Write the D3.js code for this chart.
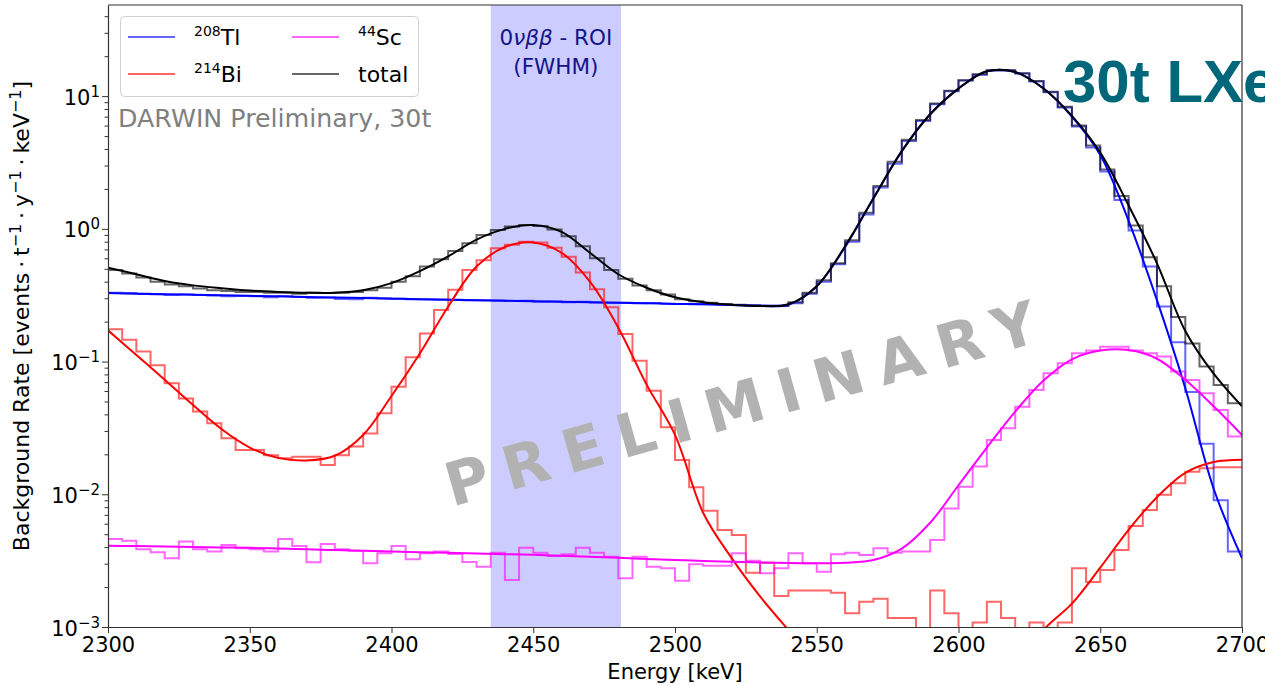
<!DOCTYPE html>
<html>
<head>
<meta charset="utf-8">
<script src="https://cdn.jsdelivr.net/npm/d3@7"></script>
<style>
  body { margin: 0; background: #fff; }
  svg { display: block; font-family: "DejaVu Sans", sans-serif; }
</style>
</head>
<body>
<svg id="chart" width="1265" height="686"></svg>
<script>
// fit curves, sampled every 10 keV
const fitE = [2300, 2310, 2320, 2330, 2340, 2350, 2360, 2370, 2380, 2390,
  2400, 2410, 2420, 2430, 2440, 2450, 2460, 2470, 2480, 2490,
  2500, 2510, 2520, 2530, 2540, 2550, 2560, 2570, 2580, 2590,
  2600, 2610, 2620, 2630, 2640, 2650, 2660, 2670, 2680, 2690, 2700];
const fitTl = [0.328, 0.325, 0.322, 0.319, 0.316, 0.313, 0.31, 0.307, 0.304, 0.301,
  0.298, 0.295, 0.292, 0.29, 0.287, 0.285, 0.282, 0.28, 0.277, 0.275,
  0.272, 0.27, 0.267, 0.263, 0.268, 0.37, 0.73, 1.7, 3.85, 7.3,
  11.4, 15.4, 15.2, 11.4, 7.0, 3.6, 1.15, 0.29, 0.063, 0.011, 0.0033];
const fitBi = [0.172, 0.112, 0.073, 0.047, 0.031, 0.0225, 0.0188, 0.018, 0.0195, 0.028,
  0.055, 0.115, 0.26, 0.52, 0.73, 0.79, 0.66, 0.40, 0.18, 0.067,
  0.028, 0.0072, 0.0033, 0.0017, 0.00095, 0.00055, 0.00032, 0.0002, 0.00015, 0.00013,
  0.00013, 0.00017, 0.00045, 0.00095, 0.0015, 0.0028, 0.0054, 0.0095, 0.0145, 0.0175, 0.0182];
const fitSc = [0.0041, 0.00407, 0.00404, 0.00401, 0.00398, 0.00395, 0.0039, 0.00385, 0.0038, 0.00375,
  0.0037, 0.00366, 0.00362, 0.00358, 0.00354, 0.0035, 0.00344, 0.00338, 0.00332, 0.00326,
  0.0032, 0.00314, 0.0031, 0.00306, 0.00303, 0.00302, 0.00305, 0.0032, 0.0039, 0.0061,
  0.0117, 0.0225, 0.042, 0.072, 0.104, 0.121, 0.122, 0.105, 0.073, 0.046, 0.028];
const fitTotal = [0.51, 0.455, 0.405, 0.375, 0.357, 0.343, 0.335, 0.33, 0.33, 0.345,
  0.39, 0.48, 0.62, 0.83, 1.0, 1.07, 0.95, 0.66, 0.455, 0.36,
  0.305, 0.28, 0.268, 0.262, 0.27, 0.37, 0.74, 1.7, 3.85, 7.3,
  11.4, 15.4, 15.2, 11.4, 7.1, 3.75, 1.5, 0.55, 0.17, 0.081, 0.046];

// simulated spectra, 5 keV bins from 2300 keV
const binStart = 2300, binWidth = 5;
const histTl = [0.33, 0.328, 0.325, 0.322, 0.318, 0.32, 0.317, 0.314, 0.31, 0.312,
  0.31, 0.305, 0.31, 0.306, 0.303, 0.304, 0.296, 0.295, 0.302, 0.30,
  0.297, 0.295, 0.295, 0.293, 0.292, 0.29, 0.29, 0.288, 0.286, 0.287,
  0.282, 0.284, 0.28, 0.282, 0.279, 0.277, 0.278, 0.275, 0.276, 0.273,
  0.272, 0.27, 0.27, 0.268, 0.267, 0.266, 0.265, 0.265, 0.275, 0.325,
  0.40, 0.54, 0.80, 1.28, 2.05, 3.1, 4.6, 6.5, 8.7, 10.9,
  13.1, 14.5, 15.6, 15.6, 14.8, 12.9, 10.7, 8.2, 5.9, 4.1,
  2.7, 1.65, 0.97, 0.52, 0.26, 0.14, 0.059, 0.024, 0.009, 0.0037];
const histBi = [0.175, 0.146, 0.119, 0.094, 0.0686, 0.0528, 0.042, 0.0343, 0.0264, 0.0216,
  0.0216, 0.0197, 0.0187, 0.0192, 0.0192, 0.0166, 0.0197, 0.0229, 0.0287, 0.0408,
  0.0645, 0.108, 0.163, 0.245, 0.347, 0.49, 0.58, 0.715, 0.76, 0.80,
  0.79, 0.72, 0.617, 0.468, 0.35, 0.257, 0.161, 0.1016, 0.0604, 0.032,
  0.0181, 0.0113, 0.0075, 0.00538, 0.00493, 0.00256, 0.00305, 0.00171, 0.00188, 0.00188,
  0.00188, 0.00181, 0.00127, 0.00155, 0.00163, 0.00117, 0.00117, 0.0004, 0.00188, 0.00127,
  0.0004, 0.00108, 0.00155, 0.00117, 0.0004, 0.00108, 0.0004, 0.00108, 0.00277, 0.00218,
  0.00269, 0.0038, 0.00577, 0.0076, 0.0099, 0.0121, 0.0148, 0.0157, 0.016, 0.016];
const histSc = [0.0046, 0.00447, 0.00385, 0.00366, 0.0033, 0.0044, 0.00385, 0.0037, 0.00415, 0.00392,
  0.00385, 0.0037, 0.0046, 0.00408, 0.00307, 0.00422, 0.00385, 0.00376, 0.00302, 0.00359,
  0.00408, 0.00324, 0.00359, 0.0037, 0.00355, 0.00309, 0.00285, 0.00363, 0.00226, 0.00396,
  0.00363, 0.00343, 0.00353, 0.00396, 0.00363, 0.00339, 0.00233, 0.00339, 0.00285, 0.00277,
  0.00223, 0.00297, 0.0029, 0.0029, 0.00359, 0.00316, 0.00254, 0.00277, 0.00359, 0.00302,
  0.00261, 0.00353, 0.00363, 0.00349, 0.00392, 0.00363, 0.0037, 0.0037, 0.00453, 0.00783,
  0.0114, 0.0162, 0.0257, 0.0314, 0.0457, 0.0611, 0.0817, 0.097, 0.1155, 0.121,
  0.1295, 0.1295, 0.121, 0.1155, 0.109, 0.084, 0.0727, 0.0577, 0.0432, 0.0272];
const histTotal = [0.49, 0.46, 0.43, 0.40, 0.38, 0.37, 0.355, 0.345, 0.34, 0.335,
  0.335, 0.33, 0.33, 0.325, 0.33, 0.328, 0.33, 0.335, 0.345, 0.36,
  0.40, 0.44, 0.52, 0.59, 0.68, 0.78, 0.9, 0.98, 1.04, 1.07,
  1.05, 0.99, 0.88, 0.74, 0.6, 0.49, 0.42, 0.375, 0.345, 0.32,
  0.295, 0.285, 0.278, 0.272, 0.268, 0.264, 0.262, 0.262, 0.28, 0.33,
  0.41, 0.55, 0.82, 1.32, 2.1, 3.2, 4.7, 6.6, 8.8, 11.0,
  13.2, 14.6, 15.7, 15.7, 14.9, 13.0, 10.8, 8.3, 6.0, 4.25,
  2.8, 1.77, 1.06, 0.61, 0.37, 0.217, 0.137, 0.0916, 0.0667, 0.0485];

const xTicks = [2300, 2350, 2400, 2450, 2500, 2550, 2600, 2650, 2700];
const yTicks = [1e-3, 1e-2, 1e-1, 1, 10];
const yTickExp = ["\u22123", "\u22122", "\u22121", "0", "1"];
const roi = [2435, 2481];

const series = [
  { iso: "208", el: "Tl", color: "#0000ff", hcolor: "rgba(0,0,255,0.6)", fit: fitTl, hist: histTl },
  { iso: "214", el: "Bi", color: "#ff0000", hcolor: "rgba(255,0,0,0.6)", fit: fitBi, hist: histBi },
  { iso: "44", el: "Sc", color: "#ff00ff", hcolor: "rgba(255,0,255,0.6)", fit: fitSc, hist: histSc },
  { iso: "", el: "total", color: "#000000", hcolor: "rgba(0,0,0,0.6)", fit: fitTotal, hist: histTotal }
];

const m = { left: 108, top: 5, right: 1242, bottom: 627 };
const svg = d3.select("#chart");

const x = d3.scaleLinear().domain([2300, 2700]).range([m.left, m.right]);
const y = d3.scaleLog().domain([1e-3, 48.6]).range([m.bottom, m.top]);

svg.append("clipPath").attr("id", "plot")
  .append("rect")
  .attr("x", m.left).attr("y", m.top)
  .attr("width", m.right - m.left).attr("height", m.bottom - m.top);

const plot = svg.append("g").attr("clip-path", "url(#plot)");

// ROI band
plot.append("rect")
  .attr("x", x(roi[0])).attr("y", m.top)
  .attr("width", x(roi[1]) - x(roi[0])).attr("height", m.bottom - m.top)
  .attr("fill", "#ccccff");

// watermark
svg.append("text")
  .attr("transform", "translate(754,422) rotate(-15.7)")
  .attr("text-anchor", "middle")
  .attr("font-size", 60)
  .attr("font-weight", "bold")
  .attr("letter-spacing", 15.5)
  .attr("fill", "#b2b2b2")
  .text("PRELIMINARY");

const histLine = d3.line()
  .x(d => x(d[0])).y(d => y(d[1]))
  .curve(d3.curveStepAfter);

const fitLine = d3.line()
  .x((d, i) => x(fitE[i])).y(d => y(d))
  .curve(d3.curveCatmullRom.alpha(0.5));

series.forEach(s => {
  const pts = s.hist.map((v, i) => [binStart + i * binWidth, v]);
  pts.push([binStart + s.hist.length * binWidth, s.hist[s.hist.length - 1]]);
  plot.append("path")
    .attr("d", histLine(pts))
    .attr("fill", "none")
    .attr("stroke", s.hcolor)
    .attr("stroke-width", 2);
});

series.forEach(s => {
  plot.append("path")
    .attr("d", fitLine(s.fit))
    .attr("fill", "none")
    .attr("stroke", s.color)
    .attr("stroke-width", 2);
});

// axes
const xAxis = svg.append("g")
  .attr("transform", `translate(0,${m.bottom})`)
  .call(d3.axisBottom(x).tickValues(xTicks).tickFormat(d3.format("d"))
    .tickSize(6).tickSizeOuter(0).tickPadding(4));
xAxis.selectAll("text").attr("font-size", 21).attr("font-family", "DejaVu Sans").attr("fill", "#000");

svg.append("g")
  .attr("transform", `translate(${m.left},0)`)
  .call(d3.axisLeft(y).tickValues(yTicks).tickSize(6).tickSizeOuter(0).tickFormat(""));

const minor = [];
[-3, -2, -1, 0, 1].forEach(p => {
  for (let k = 2; k <= 9; k++) {
    const v = k * Math.pow(10, p);
    if (v < y.domain()[1]) minor.push(v);
  }
});
svg.append("g")
  .attr("transform", `translate(${m.left},0)`)
  .call(d3.axisLeft(y).tickValues(minor).tickSize(3.5).tickSizeOuter(0).tickFormat(""))
  .select(".domain").remove();

svg.selectAll(".domain").attr("stroke", "#333").attr("stroke-width", 1.2);
svg.selectAll(".tick line").attr("stroke", "#333").attr("stroke-width", 1);

// y tick labels 10^n
yTicks.forEach((v, i) => {
  const t = svg.append("text")
    .attr("x", 100).attr("y", y(v) + 8.5)
    .attr("text-anchor", "end")
    .attr("font-size", 21);
  t.append("tspan").text("10");
  t.append("tspan").attr("font-size", 15).attr("dy", -8).text(yTickExp[i]);
});

// top and right spines
svg.append("line").attr("x1", m.left).attr("x2", m.right).attr("y1", m.top).attr("y2", m.top)
  .attr("stroke", "#333").attr("stroke-width", 1.2);
svg.append("line").attr("x1", m.right).attr("x2", m.right).attr("y1", m.top).attr("y2", m.bottom)
  .attr("stroke", "#333").attr("stroke-width", 1.2);

// axis labels
svg.append("text")
  .attr("x", (m.left + m.right) / 2).attr("y", 679)
  .attr("text-anchor", "middle").attr("font-size", 21)
  .text("Energy [keV]");

const yl = svg.append("text")
  .attr("transform", `translate(29,${(m.top + m.bottom) / 2}) rotate(-90)`)
  .attr("text-anchor", "middle").attr("font-size", 22);
const dotSep = "\u205f\u00b7\u205f";
yl.append("tspan").text("Background Rate [events" + dotSep + "t");
yl.append("tspan").attr("font-size", 16).attr("dy", -8).text("\u22121");
yl.append("tspan").attr("dy", 8).text(dotSep + "y");
yl.append("tspan").attr("font-size", 16).attr("dy", -8).text("\u22121");
yl.append("tspan").attr("dy", 8).text(dotSep + "keV");
yl.append("tspan").attr("font-size", 16).attr("dy", -8).text("\u22121");
yl.append("tspan").attr("dy", 8).text("]");

// ROI label
const roiX = (x(roi[0]) + x(roi[1])) / 2;
const r1 = svg.append("text").attr("x", roiX).attr("y", 45)
  .attr("text-anchor", "middle").attr("font-size", 21.5).attr("fill", "#14148a");
r1.append("tspan").text("0");
r1.append("tspan").attr("font-style", "italic").text("\u03bd\u03b2\u03b2");
r1.append("tspan").text(" - ROI");
svg.append("text").attr("x", roiX).attr("y", 74)
  .attr("text-anchor", "middle").attr("font-size", 21.5).attr("fill", "#14148a")
  .text("(FWHM)");

// legend
const lg = svg.append("g");
lg.append("rect")
  .attr("x", 120.5).attr("y", 16.5).attr("width", 298).attr("height", 80).attr("rx", 4)
  .attr("fill", "rgba(255,255,255,0.8)").attr("stroke", "#d0d0d0");
const legendPos = [[128, 37], [128, 74], [292, 37], [292, 74]];
series.forEach((s, i) => {
  const [lx, ly] = legendPos[i];
  lg.append("line")
    .attr("x1", lx).attr("x2", lx + 47).attr("y1", ly).attr("y2", ly)
    .attr("stroke", s.hcolor).attr("stroke-width", 2);
  const t = lg.append("text").attr("x", lx + 66).attr("y", ly + 8).attr("font-size", 22);
  if (s.iso) {
    t.append("tspan").attr("font-size", 14).attr("dy", -9).text(s.iso);
    t.append("tspan").attr("dy", 9).text(s.el);
  } else {
    t.append("tspan").text(s.el);
  }
});

svg.append("text")
  .attr("x", 118).attr("y", 127)
  .attr("font-size", 25.3).attr("fill", "#808080")
  .text("DARWIN Preliminary, 30t");

// slide title overlapping the figure
svg.append("text")
  .attr("x", 1063).attr("y", 102)
  .attr("font-family", "Liberation Sans, Arial, sans-serif")
  .attr("font-weight", "bold").attr("font-size", 60).attr("fill", "#00677a")
  .text("30t LXe");
</script>
</body>
</html>
